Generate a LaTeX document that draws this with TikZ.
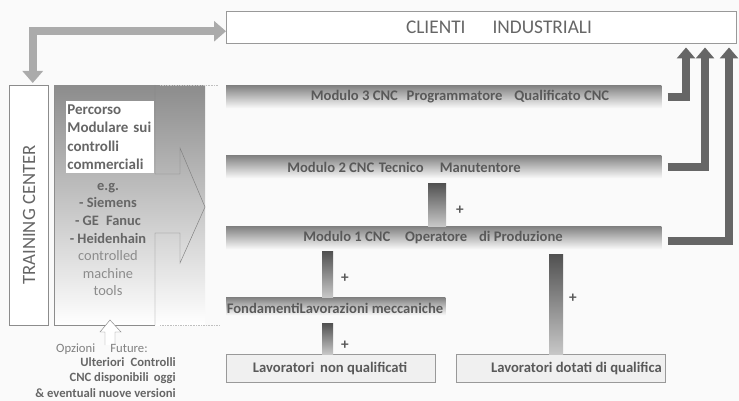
\documentclass[tikz,border=0pt]{standalone}
\usepackage{fontspec}
\setmainfont{Carlito}
\usetikzlibrary{arrows.meta,positioning,fit}

\begin{document}
\begin{tikzpicture}[x=0.03cm,y=-0.03cm,
  modbar/.style={anchor=north west,top color=black!50,bottom color=black!2,draw=none,
    minimum width=13.05cm,minimum height=0.69cm,inner sep=0pt},
  modtxt/.style={text=black!65,font=\bfseries\fontsize{12.5}{14}\selectfont,inner sep=0pt},
  conn/.style={top color=black!68,bottom color=black!22},
  plus/.style={text=black!65,font=\bfseries\fontsize{13}{14}\selectfont,inner sep=0pt},
  lavbox/.style={anchor=north west,draw=black!40,fill=black!6,minimum width=6.27cm,
    minimum height=0.84cm,inner sep=0pt},
  rarr/.style={draw=black!60,line width=0.24cm,-{Triangle[width=0.54cm,length=0.33cm]}},
  toparr/.style={draw=black!33,line width=0.24cm,
    {Triangle[width=0.6cm,length=0.36cm]}-{Triangle[width=0.6cm,length=0.36cm]}}]
\useasboundingbox[fill=black!2] (0,0) rectangle (739,401);

\node[anchor=north west,draw=black!40,fill=white,minimum width=15.3cm,minimum height=0.96cm,inner sep=0pt]
  (clienti) at (226,11) {};
\node[text=black!60,font=\fontsize{16.5}{18}\selectfont,inner sep=0pt] (clientit) at (499,27)
  {CLIENTI\hspace{1.4em}INDUSTRIALI};

\node[anchor=north west,draw=black!45,fill=white,minimum width=1.17cm,minimum height=7.2cm,inner sep=0pt]
  (training) at (9,85) {};
\node[rotate=90,text=black!60,font=\fontsize{16}{18}\selectfont,inner sep=0pt] (trainingt) at (29,215)
  {TRAINING CENTER};

\node[anchor=north west,top color=black!45,bottom color=white,minimum width=4.53cm,minimum height=7.2cm,
  inner sep=0pt] (panel) at (54,85) {};
\draw[black!45] (155,85) -- (54,85) -- (54,325) -- (155,325);
\draw[black!50] (155,85) -- (155,174) -- (180,174) -- (180,148) -- (205,207) -- (180,263)
  -- (180,233) -- (155,233) -- (155,325);
\draw[black!25,densely dotted] (160,85) -- (218,85);
\draw[black!25,densely dotted] (160,325) -- (220,325);

\node[anchor=north west,fill=white,minimum width=2.58cm,minimum height=2.16cm,inner sep=1pt,
  text width=2.55cm,align=left,text=black!60,font=\bfseries\fontsize{12.8}{15.6}\selectfont]
  (percorso) at (66,101) {Percorso\\Modulare sui\\controlli\\commerciali};

\node[anchor=north,align=center,inner sep=0pt,font=\fontsize{12.3}{15}\selectfont] (marche) at (108,183)
  {\textcolor{black!60}{\bfseries e.g.}\\
   \textcolor{black!60}{\bfseries - Siemens}\\
   \textcolor{black!60}{\bfseries - GE\enspace Fanuc}\\
   \textcolor{black!60}{\bfseries - Heidenhain}\\
   \textcolor{black!45}{controlled}\\
   \textcolor{black!45}{machine}\\
   \textcolor{black!45}{tools}};

\draw[black!45,fill=white] (105,345) -- (105,332) -- (100,332) -- (110,320) -- (121,332) -- (115,332)
  -- (115,345);
\node[anchor=base west,inner sep=0pt,text=black!50,font=\fontsize{10.8}{13}\selectfont] (opzioni) at (56,352)
  {Opzioni\hspace{1.2em}Future:};
\node[anchor=north east,align=right,inner sep=0pt,text=black!60,font=\bfseries\fontsize{10.8}{13.2}\selectfont]
  (ulteriori) at (176,357) {Ulteriori\enspace Controlli\\CNC disponibili\, oggi\\\& eventuali nuove versioni};

\node[modbar] (mod3) at (226,85) {};
\node[modtxt] (mod3t) at (460,97) {Modulo 3 CNC\hspace{0.6em}Programmatore\hspace{0.8em}Qualificato CNC};
\node[modbar] (mod2) at (226,155) {};
\node[modtxt] (mod2t) at (404,167) {Modulo 2 CNC\hspace{0.3em}Tecnico\hspace{1.1em}Manutentore};
\node[modbar] (mod1) at (226,226) {};
\node[modtxt] (mod1t) at (433,238) {Modulo 1 CNC\hspace{1em}Operatore\hspace{0.8em}di Produzione};
\node[modbar,minimum width=6.57cm,minimum height=0.54cm] (fond) at (226,297) {};
\node[modtxt] (fondt) at (335,308) {FondamentiLavorazioni meccaniche};

\node[lavbox] (lav1) at (226,354) {};
\node[modtxt] (lav1t) at (330,368) {Lavoratori\hspace{0.4em}non qualificati};
\node[lavbox] (lav2) at (456,354) {};
\node[modtxt,anchor=east] (lav2t) at (662,368) {Lavoratori dotati di qualifica};

\shade[conn] ([xshift=6.06cm,yshift=-0.15cm]mod2.south west) rectangle ([xshift=6.6cm]mod1.north west);
\shade[conn] ([xshift=2.88cm,yshift=-0.06cm]mod1.south west) rectangle ([xshift=3.21cm]fond.north west);
\shade[conn] ([xshift=2.88cm,yshift=-0.24cm]fond.south west) rectangle ([xshift=3.21cm]lav1.north west);
\shade[conn] ([xshift=9.69cm,yshift=-0.15cm]mod1.south west) rectangle ([xshift=3.21cm]lav2.north west);
\node[plus] (p1) at (460,210) {+};
\node[plus] (p2) at (345,278) {+};
\node[plus] (p3) at (345,345) {+};
\node[plus] (p4) at (573,298) {+};

\draw[rarr] ([xshift=0.18cm]mod3.east) -| ([xshift=13.8cm,yshift=-0.12cm]clienti.south west);
\draw[rarr] ([xshift=0.18cm]mod2.east) -| ([xshift=14.37cm,yshift=-0.12cm]clienti.south west);
\draw[rarr] ([xshift=0.18cm,yshift=-0.1cm]mod1.east) -| ([xshift=15.09cm,yshift=-0.12cm]clienti.south west);
\draw[toparr] ([yshift=-0.12cm]clienti.west) -| ([xshift=0.12cm,yshift=0.06cm]training.north);
\end{tikzpicture}
\end{document}
